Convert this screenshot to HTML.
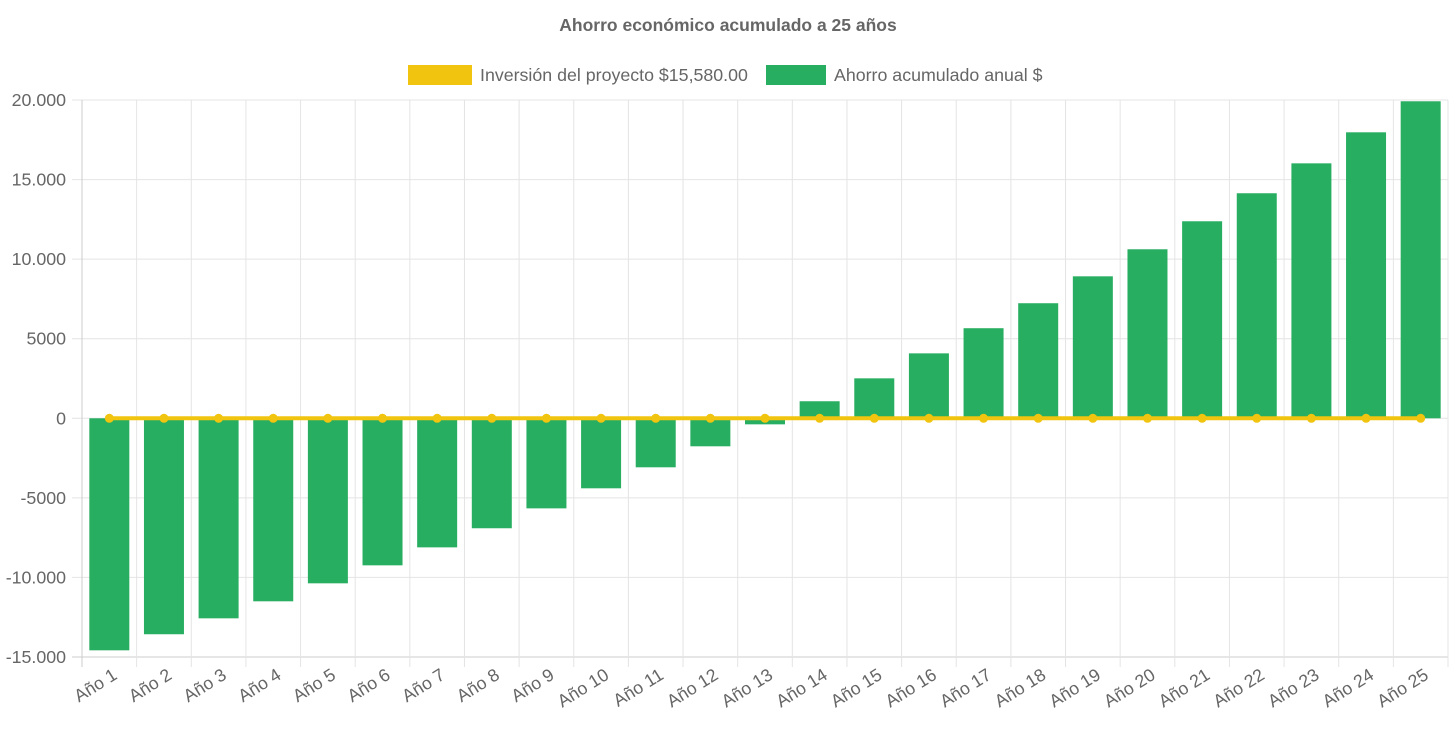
<!DOCTYPE html>
<html><head><meta charset="utf-8"><style>
body{margin:0;background:#fff;font-family:"Liberation Sans",Arial,sans-serif;}
</style></head><body>
<svg id="chart" width="1456" height="727" font-family="Liberation Sans, Arial, sans-serif">
<text x="728" y="31" text-anchor="middle" font-size="17.5" font-weight="bold" fill="#666">Ahorro económico acumulado a 25 años</text>
<g>
<g><rect x="408" y="65" width="64" height="20" fill="#f1c40f"/><text x="480" y="81" font-size="17.8" fill="#666">Inversión del proyecto $15,580.00</text></g>
<g><rect x="766" y="65" width="60" height="20" fill="#27ae60"/><text x="834" y="81" font-size="17.8" fill="#666">Ahorro acumulado anual $</text></g>
</g>
<g id="grid"></g><g id="bars"></g><g id="line"></g><g id="axes"></g>
</svg>
<script>
const categories=[];for(let i=1;i<=25;i++)categories.push('Año '+i);
const savings=[-14580,-13570,-12570,-11500,-10370,-9240,-8110,-6910,-5660,-4400,-3080,-1760,-380,1070,2510,4080,5660,7230,8920,10620,12380,14140,16020,17970,19920];
const investmentLine=[0,0,0,0,0,0,0,0,0,0,0,0,0,0,0,0,0,0,0,0,0,0,0,0,0];
const yTicks=[20000,15000,10000,5000,0,-5000,-10000,-15000];
const yTickLabels=['20.000','15.000','10.000','5000','0','-5000','-10.000','-15.000'];
const L=82,R=1448,T=100,B=657,yMax=20000,yMin=-15000;
const NS='http://www.w3.org/2000/svg';
const bw=(R-L)/categories.length;
const y=v=>T+(yMax-v)/(yMax-yMin)*(B-T);
const xc=i=>L+bw*(i+0.5);
function mk(t,a,p){const e=document.createElementNS(NS,t);for(const k in a)e.setAttribute(k,a[k]);p.appendChild(e);return e;}
const grid=document.getElementById('grid'),bars=document.getElementById('bars'),line=document.getElementById('line'),axes=document.getElementById('axes');
yTicks.forEach((v,i)=>{
 const g=mk('line',{x1:L-10,x2:R,y1:y(v),y2:y(v),stroke:(v===yMin?'#ccc':'#e4e4e4'),'stroke-width':1},grid);
 
 
 const t=mk('text',{x:L-16,y:y(v)+6,'text-anchor':'end','font-size':17.8,fill:'#666'},axes);
 t.textContent=yTickLabels[i];
 
 
});
for(let i=0;i<=categories.length;i++){
 const x=L+bw*i;
 const g=mk('line',{x1:x,x2:x,y1:T,y2:B+10,stroke:(i===0?'#ccc':'#e4e4e4'),'stroke-width':1},grid);
 
 
}
categories.forEach((c,i)=>{
 const v=savings[i];
 const r=mk('rect',{x:xc(i)-20,width:40,y:Math.min(y(v),y(0)),height:Math.abs(y(v)-y(0)),fill:'#27ae60'},bars);
 
 
 const t=mk('text',{x:xc(i)+9,y:678,'text-anchor':'end','font-size':17.8,fill:'#666',transform:`rotate(-32 ${xc(i)+9} 678)`},axes);
 t.textContent=c;
 
 
});
const pts=investmentLine.map((v,i)=>xc(i)+','+y(v)).join(' ');
const pl=mk('polyline',{points:pts,fill:'none',stroke:'#f1c40f','stroke-width':4},line);


investmentLine.forEach((v,i)=>{
 const c=mk('circle',{cx:xc(i),cy:y(v),r:4.5,fill:'#f1c40f'},line);
 
 
});
</script>
</body></html>
